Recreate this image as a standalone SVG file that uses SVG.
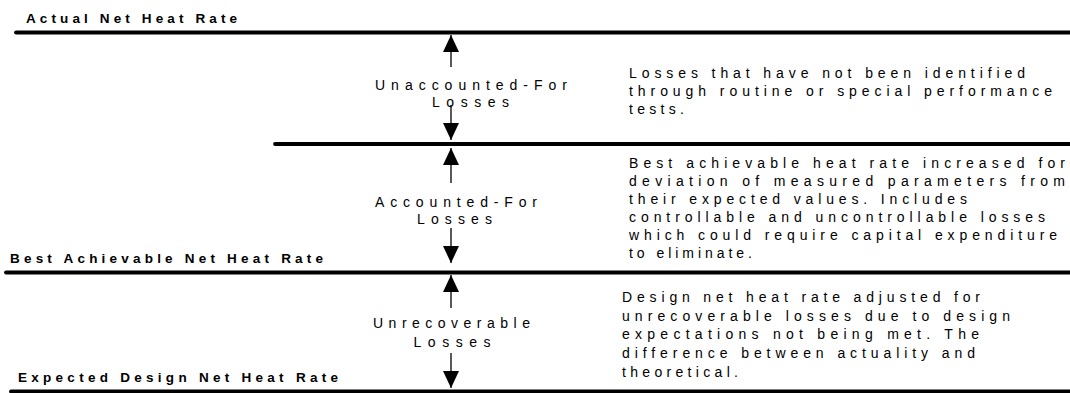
<svg xmlns="http://www.w3.org/2000/svg" width="1070" height="393" viewBox="0 0 1070 393">
  <style>
    .rule{stroke:#000;stroke-width:3.8;stroke-linecap:round;fill:none}
    .lvl{font-family:"Liberation Sans",Arial,sans-serif;font-size:13.5px;font-weight:bold;fill:#000}
    .lbl{font-family:"Liberation Sans",Arial,sans-serif;font-size:14px;fill:#000}
    .desc{font-family:"Liberation Sans",Arial,sans-serif;font-size:14px;fill:#000}
    .arrow{stroke:#000;stroke-width:1.3;fill:none;marker-end:url(#head)}
  </style>
  <defs>
    <marker id="head" markerUnits="userSpaceOnUse" markerWidth="18" markerHeight="16" refX="17" refY="8" orient="auto" viewBox="0 0 18 16">
      <path d="M0,0 L17,8 L0,16 Z" fill="#000"/>
    </marker>
  </defs>
  <rect width="1070" height="393" fill="#fff"/>

  <!-- heat rate levels -->
  <g id="level-actual">
    <line class="rule" x1="16" y1="32.5" x2="1072" y2="32.5"/>
    <text class="lvl" x="26" y="22.7" textLength="211" lengthAdjust="spacing">Actual Net Heat Rate</text>
  </g>
  <g id="level-accounted">
    <line class="rule" x1="275" y1="144" x2="1072" y2="144"/>
  </g>
  <g id="level-best">
    <line class="rule" x1="6" y1="272.5" x2="1072" y2="272.5"/>
    <text class="lvl" x="10" y="262.7" textLength="313" lengthAdjust="spacing">Best Achievable Net Heat Rate</text>
  </g>
  <g id="level-expected">
    <line class="rule" x1="11" y1="391.5" x2="1072" y2="391.5"/>
    <text class="lvl" x="18" y="381.7" textLength="320" lengthAdjust="spacing">Expected Design Net Heat Rate</text>
  </g>

  <!-- loss bands -->
  <g id="band-unaccounted">
    <text class="lbl" x="375" y="89.5" textLength="192" lengthAdjust="spacing">Unaccounted-For</text>
    <text class="lbl" x="432" y="107" textLength="77" lengthAdjust="spacing">Losses</text>
    <text class="desc" x="629" y="78" textLength="396" lengthAdjust="spacing">Losses that have not been identified</text>
    <text class="desc" x="629" y="96" textLength="423" lengthAdjust="spacing">through routine or special performance</text>
    <text class="desc" x="629" y="114" textLength="55" lengthAdjust="spacing">tests.</text>
  </g>
  <g id="band-accounted">
    <text class="lbl" x="375" y="206.5" textLength="162" lengthAdjust="spacing">Accounted-For</text>
    <text class="lbl" x="417" y="224.3" textLength="75" lengthAdjust="spacing">Losses</text>
    <text class="desc" x="629" y="168" textLength="436" lengthAdjust="spacing">Best achievable heat rate increased for</text>
    <text class="desc" x="629" y="186" textLength="436" lengthAdjust="spacing">deviation of measured parameters from</text>
    <text class="desc" x="629" y="204" textLength="338" lengthAdjust="spacing">their expected values.  Includes</text>
    <text class="desc" x="629" y="222" textLength="416" lengthAdjust="spacing">controllable and uncontrollable losses</text>
    <text class="desc" x="629" y="240" textLength="428" lengthAdjust="spacing">which could require capital expenditure</text>
    <text class="desc" x="629" y="258" textLength="123" lengthAdjust="spacing">to eliminate.</text>
  </g>
  <g id="band-unrecoverable">
    <text class="lbl" x="373" y="328" textLength="157" lengthAdjust="spacing">Unrecoverable</text>
    <text class="lbl" x="413.5" y="347" textLength="77" lengthAdjust="spacing">Losses</text>
    <text class="desc" x="622" y="302" textLength="358" lengthAdjust="spacing">Design net heat rate adjusted for</text>
    <text class="desc" x="622" y="320.7" textLength="388" lengthAdjust="spacing">unrecoverable losses due to design</text>
    <text class="desc" x="622" y="339.4" textLength="357" lengthAdjust="spacing">expectations not being met.  The</text>
    <text class="desc" x="622" y="358" textLength="353" lengthAdjust="spacing">difference between actuality and</text>
    <text class="desc" x="622" y="376.7" textLength="116" lengthAdjust="spacing">theoretical.</text>
  </g>

  <!-- span arrows -->
  <g id="connectors">
    <line class="arrow" x1="451" y1="67" x2="451" y2="35"/>
    <line class="arrow" x1="451" y1="105" x2="451" y2="140"/>
    <line class="arrow" x1="451" y1="183" x2="451" y2="148"/>
    <line class="arrow" x1="451" y1="228" x2="451" y2="263"/>
    <line class="arrow" x1="451" y1="308" x2="451" y2="275"/>
    <line class="arrow" x1="451" y1="353" x2="451" y2="388"/>
  </g>
</svg>
